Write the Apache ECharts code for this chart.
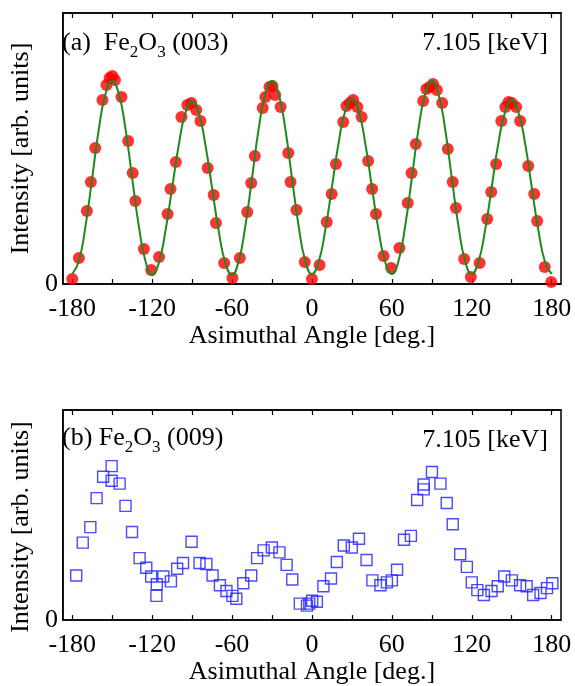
<!DOCTYPE html>
<html>
<head>
<meta charset="utf-8">
<script src="https://cdn.jsdelivr.net/npm/echarts@6/dist/echarts.min.js"></script>
<style>
  html, body { margin: 0; padding: 0; background: #fff; }
  #chart { width: 575px; height: 686px; }
</style>
</head>
<body>
<div id="chart"></div>
<script>
// x axis ticks (deg.)
var tickValues = [-180, -150, -120, -90, -60, -30, 0, 30, 60, 90, 120, 150, 180];
var labelValues = [-180, -120, -60, 0, 60, 120, 180];

// (a) Fe2O3 (003) measured points: angle, intensity
var angle003 = [-180, -175, -169, -166, -162.7, -157.3, -154.3, -151.9, -149.9, -147.9, -143, -138, -134.6, -132.6, -126.2, -120.7,
  -114.8, -108.4, -106.2, -102.2, -98, -93.6, -90.6, -86.9, -83.7, -78.3, -73.8, -72.1, -65.9, -59.7,
  -54.1, -48.6, -45.6, -42.9, -37, -35, -31.9, -29.6, -27.6, -23.5, -17.8, -16.1, -11.6, -5.4, 0,
  5.7, 11.1, 14.8, 18, 23.5, 25.9, 28.4, 30.9, 34.1, 37.3, 42.2, 45.2, 48.1, 53.8, 59.5,
  65.7, 71.9, 74.8, 78, 83.5, 85.9, 88.4, 90.9, 93.8, 97.8, 102, 105.7, 108.1, 114.3, 119.3,
  125.9, 131.6, 134.6, 138.3, 142.2, 145.2, 147.6, 150.1, 153.3, 156.3, 162.4, 166.9, 169.1, 174.8, 179.7];
var int003 = [5, 26, 73, 102, 136, 184, 199, 206, 208, 204, 187, 143, 111, 83, 35, 14,
  27, 70, 95, 122, 167, 179, 181, 174, 163, 116, 89, 61, 21, 6,
  26, 72, 101, 128, 176, 187, 197, 198, 189, 177, 131, 102, 74, 22, 5,
  19, 62, 90, 120, 162, 178, 181, 184, 177, 167, 123, 95, 70, 28, 16,
  36, 81, 111, 140, 183, 195, 197, 200, 194, 181, 135, 102, 76, 25, 7,
  21, 65, 92, 120, 163, 177, 182, 181, 177, 163, 118, 90, 63, 17, 2];

// (a) fit curve, read every 5 deg.
var fitAngles = [-180, -175, -170, -165, -160, -155, -150, -145, -140, -135, -130, -125, -120,
  -115, -110, -105, -100, -95, -90, -85, -80, -75, -70, -65, -60,
  -55, -50, -45, -40, -35, -30, -25, -20, -15, -10, -5, 0,
  5, 10, 15, 20, 25, 30, 35, 40, 45, 50, 55, 60,
  65, 70, 75, 80, 85, 90, 95, 100, 105, 110, 115, 120,
  125, 130, 135, 140, 145, 150, 155, 160, 165, 170, 175, 180];
var fitValues = [10, 23, 58, 106, 155, 190, 203, 190, 155, 106, 58, 23, 9,
  21, 53, 96, 139, 171, 183, 171, 139, 96, 53, 21, 9,
  23, 58, 106, 155, 190, 203, 190, 155, 106, 58, 23, 10,
  22, 54, 97, 141, 173, 185, 173, 141, 97, 54, 22, 10,
  23, 58, 106, 155, 190, 203, 190, 155, 106, 58, 23, 10,
  22, 54, 97, 141, 172, 184, 172, 141, 97, 54, 22, 10];

// (b) Fe2O3 (009) measured points
var angle009 = [-177, -172.1, -166.4, -161.7, -156.8, -150.4, -150.4, -144.4, -140, -135.1, -129.4, -124.4, -120.7, -116.5, -116.8,
  -111.6, -105.9, -101.2, -96.8, -90.4, -84.4, -79.3, -74.6, -69.1, -64.2, -59.7, -56.8,
  -51.6, -45.6, -41.2, -36.3, -30.1, -24.4, -19, -14.8, -9.1, -3.7, -2, 0.2, 3.7,
  8.6, 14.3, 18.7, 23.9, 29.9, 35.3, 41, 45.4, 51.4, 56.3, 60,
  63.9, 69.1, 74.3, 79, 83.9, 83.9, 90.1, 96.5, 101.2, 105.7, 111.3, 116.3, 120,
  124.2, 129.1, 134.8, 139.5, 144.4, 150.1, 156.3, 161.2, 166.1, 171.6, 176.5, 180.5];
var int009 = [46, 80, 96, 126, 148, 159, 144, 141, 118, 91, 64, 54, 45, 37, 25,
  45, 40, 53, 59, 81, 59, 58, 46, 36, 30, 25, 22,
  38, 46, 64, 72, 75, 70, 57, 42, 17, 15, 17, 20, 19,
  35, 43, 60, 77, 75, 84, 62, 41, 36, 39, 41,
  52, 83, 87, 124, 135, 140, 153, 141, 121, 99, 68, 55, 39,
  31, 26, 30, 35, 45, 41, 36, 35, 26, 28, 33, 38];

function zip(a, b) {
  var out = [];
  for (var i = 0; i < a.length; i++) out.push([a[i], b[i]]);
  return out;
}

var FONT = '"Liberation Serif", "Times New Roman", serif';

function xAxes(gridIndex) {
  return [{
    type: 'value', gridIndex: gridIndex, position: 'bottom',
    min: -187, max: 187,
    name: 'Asimuthal Angle [deg.]', nameLocation: 'middle', nameGap: 38,
    nameTextStyle: { fontFamily: FONT, fontSize: 26, color: '#000' },
    axisLine: { show: true, onZero: false, lineStyle: { color: '#000', width: 1.5 } },
    axisTick: { show: true, inside: true, length: 5, customValues: tickValues, lineStyle: { color: '#000', width: 1.2 } },
    axisLabel: { customValues: labelValues, margin: 12, fontFamily: FONT, fontSize: 26, color: '#000' },
    splitLine: { show: false }
  }, {
    type: 'value', gridIndex: gridIndex, position: 'top',
    min: -187, max: 187,
    axisLine: { show: true, onZero: false, lineStyle: { color: '#000', width: 1.5 } },
    axisTick: { show: true, inside: true, length: 5, customValues: tickValues, lineStyle: { color: '#000', width: 1.2 } },
    axisLabel: { show: false },
    splitLine: { show: false }
  }];
}

function yAxis(gridIndex, max, shift) {
  return {
    type: 'value', gridIndex: gridIndex, min: 0, max: max,
    name: 'Intensity [arb. units]', nameLocation: 'middle', nameGap: 24, nameRotate: 90,
    nameTextStyle: { fontFamily: FONT, fontSize: 26, color: '#000', padding: [0, shift, 0, 0] },
    axisLine: { show: true, onZero: false, lineStyle: { color: '#000', width: 1.5 } },
    axisTick: { show: false },
    axisLabel: { customValues: [0], margin: 5, fontFamily: FONT, fontSize: 26, color: '#000' },
    splitLine: { show: false }
  };
}

var titleStyle = {
  fontFamily: FONT, fontSize: 26, fontWeight: 'normal', color: '#000', lineHeight: 36,
  rich: { s: { fontFamily: FONT, fontSize: 17, lineHeight: 17, verticalAlign: 'bottom', color: '#000' } }
};

var chart = echarts.init(document.getElementById('chart'));
var xa = xAxes(0).concat(xAxes(1));

chart.setOption({
  animation: false,
  backgroundColor: '#fff',
  title: [
    { text: '(a)  Fe{s|2}O{s|3} (003)', left: 62, top: 25, padding: 0, textStyle: titleStyle },
    { text: '7.105 [keV]', right: 27, top: 25, padding: 0, textStyle: titleStyle },
    { text: '(b) Fe{s|2}O{s|3} (009)', left: 62, top: 420, padding: 0, textStyle: titleStyle },
    { text: '7.105 [keV]', right: 27, top: 422, padding: 0, textStyle: titleStyle }
  ],
  grid: [
    { left: 57, top: 13, width: 504, height: 271, show: true, borderColor: '#000', borderWidth: 1.5 },
    { left: 57, top: 410, width: 504, height: 217, show: true, borderColor: '#000', borderWidth: 1.5 }
  ],
  xAxis: xa,
  yAxis: [yAxis(0, 271, 0), yAxis(1, 217, 24)],
  series: [
    {
      type: 'scatter', xAxisIndex: 0, yAxisIndex: 0,
      data: zip(angle003, int003),
      symbol: 'circle', symbolSize: 12,
      itemStyle: { color: '#ff0000' }, z: 2
    },
    {
      type: 'line', xAxisIndex: 0, yAxisIndex: 0,
      data: zip(fitAngles, fitValues),
      smooth: true, showSymbol: false,
      lineStyle: { color: '#1f8a1f', width: 2 }, z: 3
    },
    {
      type: 'scatter', xAxisIndex: 2, yAxisIndex: 1,
      data: zip(angle009, int009),
      symbol: 'rect', symbolSize: 11,
      itemStyle: { color: 'rgba(0,0,0,0)', borderColor: '#2a2aff', borderWidth: 1.4, opacity: 0.85 }
    }
  ]
});
</script>
</body>
</html>
